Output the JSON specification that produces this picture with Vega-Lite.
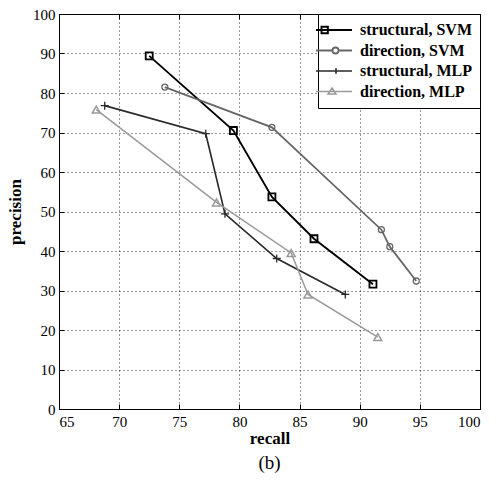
{
  "$schema": "https://vega.github.io/schema/vega-lite/v6.json",
  "width": 421,
  "height": 395,
  "autosize": {"type": "none"},
  "padding": {"left": 59, "top": 14, "right": 17, "bottom": 90},
  "background": "white",
  "title": {"text": "(b)", "orient": "bottom", "font": "Liberation Serif", "fontSize": 19, "fontWeight": "normal", "color": "#000", "offset": 8},
  "config": {
    "view": {"stroke": "#000", "strokeWidth": 1},
    "axis": {
      "domainColor": "#000",
      "tickColor": "#000",
      "tickSize": -5,
      "labelFont": "Liberation Serif",
      "labelFontSize": 15,
      "labelColor": "#000",
      "titleFont": "Liberation Serif",
      "titleFontSize": 17,
      "titleFontWeight": "bold",
      "titleColor": "#000",
      "gridColor": "#000",
      "gridDash": [1, 3],
      "gridOpacity": 0.8,
      "gridWidth": 1
    },
    "legend": {
      "orient": "top-right",
      "offset": 0,
      "fillColor": "white",
      "strokeColor": "#000",
      "padding": 8,
      "labelFont": "Liberation Serif",
      "labelFontSize": 16,
      "labelFontWeight": "bold",
      "labelColor": "#000",
      "symbolSize": 4,
      "labelOffset": 18,
      "rowPadding": 4.5
    }
  },
  "data": {
    "values": [
      {"series": "structural, SVM", "order": 1, "recall": 72.5, "precision": 89.4},
      {"series": "structural, SVM", "order": 2, "recall": 79.5, "precision": 70.5},
      {"series": "structural, SVM", "order": 3, "recall": 82.7, "precision": 53.7},
      {"series": "structural, SVM", "order": 4, "recall": 86.2, "precision": 43.1},
      {"series": "structural, SVM", "order": 5, "recall": 91.1, "precision": 31.6},
      {"series": "direction, SVM", "order": 1, "recall": 73.8, "precision": 81.5},
      {"series": "direction, SVM", "order": 2, "recall": 82.7, "precision": 71.3},
      {"series": "direction, SVM", "order": 3, "recall": 91.8, "precision": 45.4},
      {"series": "direction, SVM", "order": 4, "recall": 92.5, "precision": 41.1},
      {"series": "direction, SVM", "order": 5, "recall": 94.7, "precision": 32.4},
      {"series": "structural, MLP", "order": 1, "recall": 68.8, "precision": 76.8},
      {"series": "structural, MLP", "order": 2, "recall": 77.2, "precision": 69.7},
      {"series": "structural, MLP", "order": 3, "recall": 78.8, "precision": 49.4},
      {"series": "structural, MLP", "order": 4, "recall": 83.1, "precision": 38.1},
      {"series": "structural, MLP", "order": 5, "recall": 88.8, "precision": 29.0},
      {"series": "direction, MLP", "order": 1, "recall": 68.1, "precision": 75.8},
      {"series": "direction, MLP", "order": 2, "recall": 78.1, "precision": 52.3},
      {"series": "direction, MLP", "order": 3, "recall": 84.3, "precision": 39.5},
      {"series": "direction, MLP", "order": 4, "recall": 85.7, "precision": 29.0},
      {"series": "direction, MLP", "order": 5, "recall": 91.5, "precision": 18.2}
    ]
  },
  "layer": [
    {
      "mark": {"type": "line", "strokeCap": "butt"},
      "encoding": {
        "x": {"field": "recall", "type": "quantitative", "scale": {"domain": [65, 100], "nice": false, "zero": false}, "axis": {"title": "recall", "values": [65,70,75,80,85,90,95,100], "labelPadding": 10, "titlePadding": 1, "grid": true}},
        "y": {"field": "precision", "type": "quantitative", "scale": {"domain": [0, 100], "nice": false}, "axis": {"title": "precision", "values": [0,10,20,30,40,50,60,70,80,90,100], "labelPadding": 9, "titlePadding": 8, "grid": true}},
        "order": {"field": "order"},
        "color": {
          "field": "series", "type": "nominal",
          "scale": {"domain": ["structural, SVM", "direction, SVM", "structural, MLP", "direction, MLP"], "range": ["#000000", "#666666", "#2a2a2a", "#9a9a9a"]},
          "legend": {
            "title": null,
            "encode": {
              "symbols": {
                "update": {
                  "shape": {"signal": "datum.value === 'structural, SVM' ? 'M-18,0H18M-12.5,-3.2H-6.1V3.2H-12.5Z' : datum.value === 'direction, SVM' ? 'M-18,0H-1.5M4.5,0H18M-1.5,0A3,3 0 1 1 4.5,0A3,3 0 1 1 -1.5,0Z' : datum.value === 'structural, MLP' ? 'M-18,0H18M2,-2.8V2.8' : 'M-18,0H18M-2,-3.5L2,2.5L-6,2.5Z'"},
                  "strokeWidth": {"signal": "datum.value === 'structural, SVM' ? 1.7 : datum.value === 'direction, MLP' ? 1.8 : 1.3"},
                  "fill": {"value": "transparent"}
                }
              }
            }
          }
        },
        "strokeWidth": {"field": "series", "type": "nominal", "scale": {"domain": ["structural, SVM", "direction, SVM", "structural, MLP", "direction, MLP"], "range": [1.9, 1.5, 1.3, 2]}, "legend": null}
      }
    },
    {
      "transform": [{"filter": "datum.series === 'structural, SVM'"}],
      "mark": {"type": "point", "shape": "square", "size": 49, "filled": false, "opacity": 1, "stroke": "#000000", "strokeWidth": 1.8},
      "encoding": {
        "x": {"field": "recall", "type": "quantitative", "axis": {"orient": "top", "labels": false, "title": null, "grid": false, "values": [65,70,75,80,85,90,95,100]}},
        "y": {"field": "precision", "type": "quantitative", "axis": {"orient": "right", "labels": false, "title": null, "grid": false, "values": [0,10,20,30,40,50,60,70,80,90,100]}}
      }
    },
    {
      "transform": [{"filter": "datum.series === 'direction, SVM'"}],
      "mark": {"type": "point", "shape": "circle", "size": 36, "filled": false, "opacity": 1, "stroke": "#666666", "strokeWidth": 1.3},
      "encoding": {
        "x": {"field": "recall", "type": "quantitative", "axis": null},
        "y": {"field": "precision", "type": "quantitative", "axis": null}
      }
    },
    {
      "transform": [{"filter": "datum.series === 'structural, MLP'"}],
      "mark": {"type": "point", "shape": "M-1,0H1M0,-1V1", "size": 64, "filled": false, "opacity": 1, "stroke": "#2a2a2a", "strokeWidth": 1.3},
      "encoding": {
        "x": {"field": "recall", "type": "quantitative", "axis": null},
        "y": {"field": "precision", "type": "quantitative", "axis": null}
      }
    },
    {
      "transform": [{"filter": "datum.series === 'direction, MLP'"}],
      "mark": {"type": "point", "shape": "triangle-up", "size": 64, "filled": false, "opacity": 1, "stroke": "#9a9a9a", "strokeWidth": 1.5},
      "encoding": {
        "x": {"field": "recall", "type": "quantitative", "axis": null},
        "y": {"field": "precision", "type": "quantitative", "axis": null}
      }
    }
  ],
  "resolve": {"axis": {"x": "independent", "y": "independent"}}
}
